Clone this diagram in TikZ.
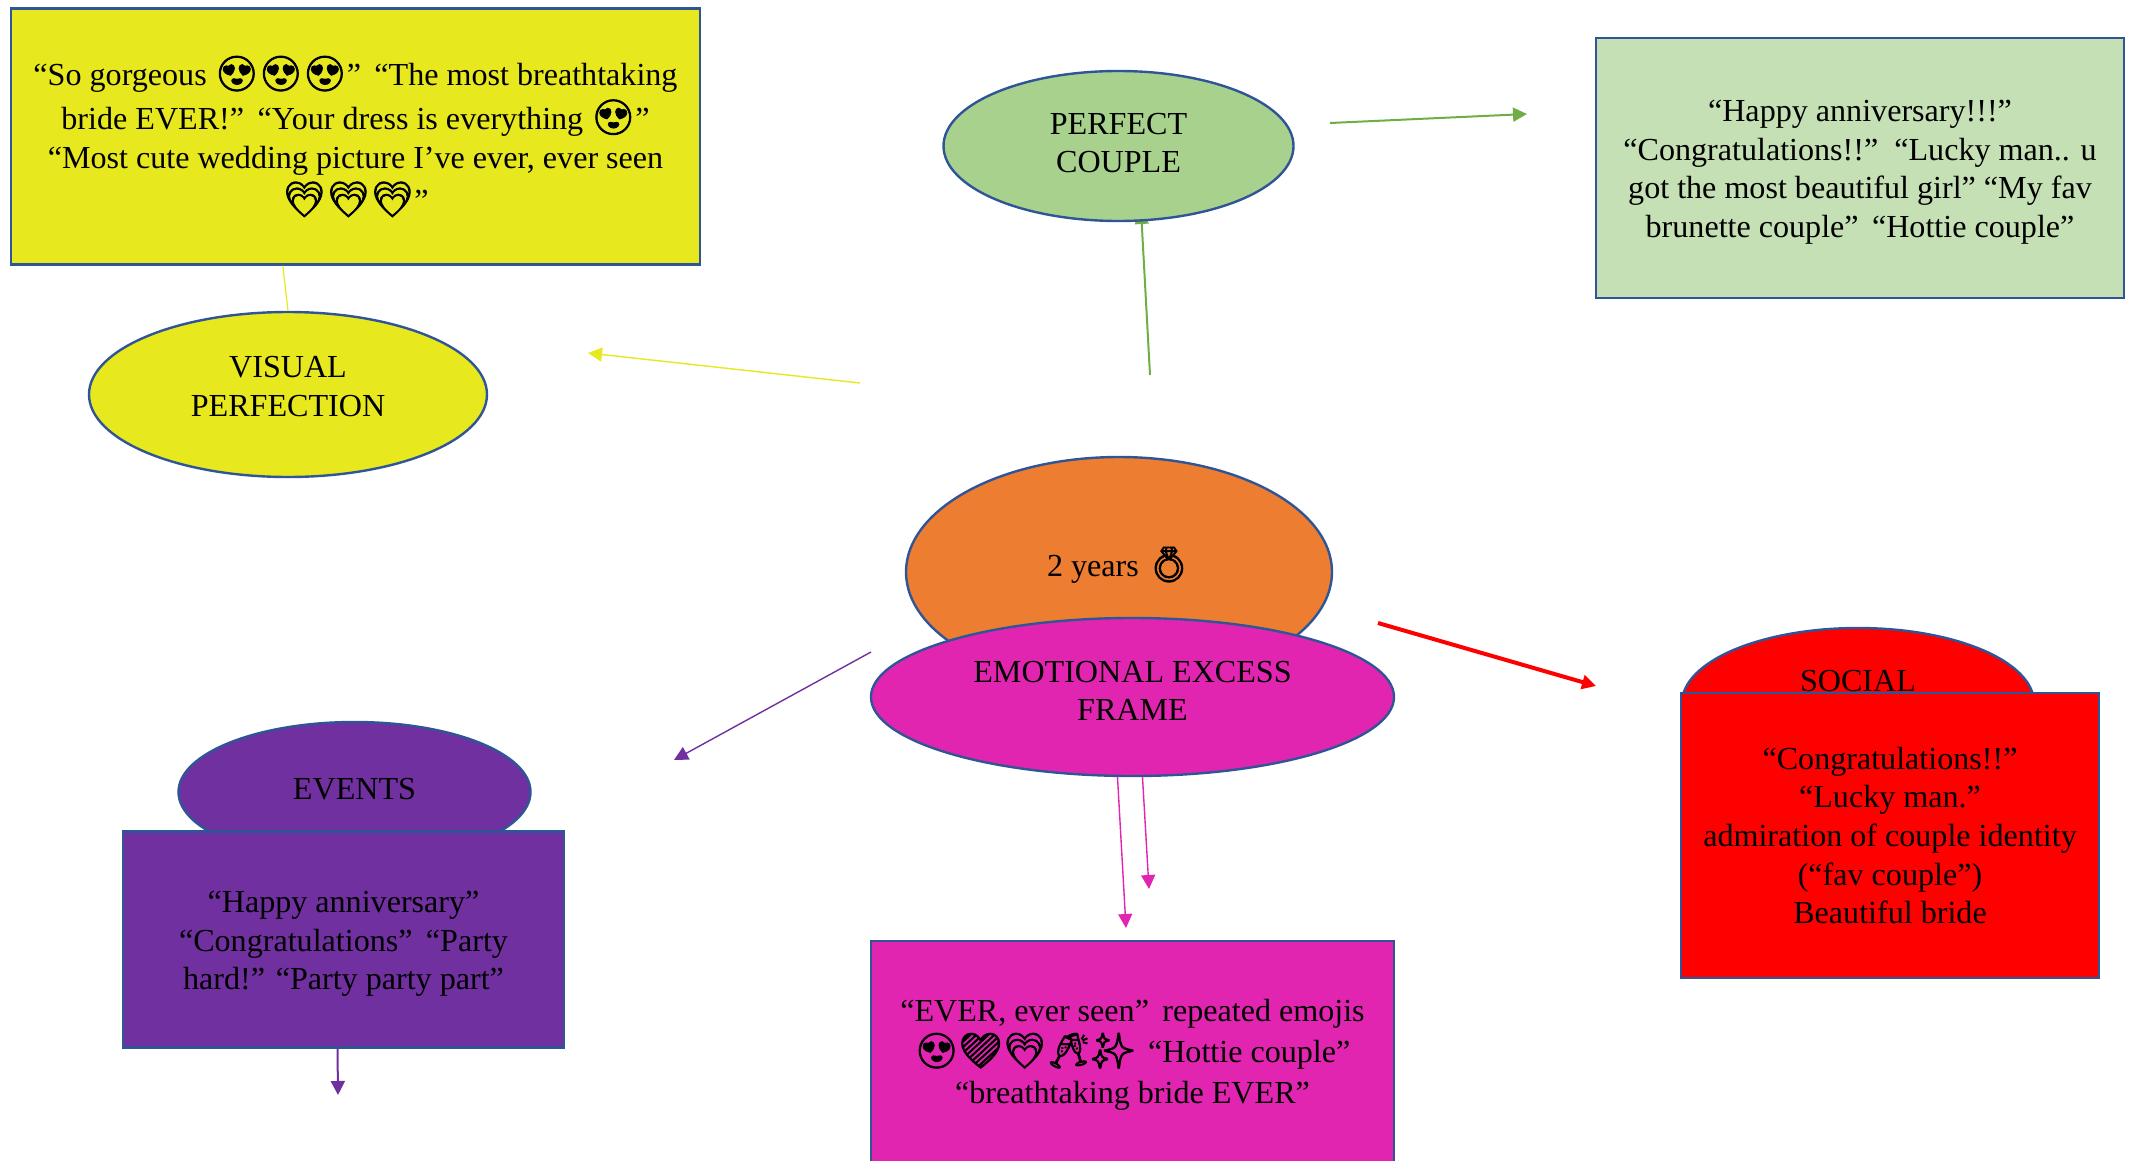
\documentclass[tikz,border=0pt]{standalone}
\usepackage{fontspec}
\setmainfont{Liberation Serif}
\newfontfamily\emojifont[Scale=1.08,FakeBold=2.5]{Noto Emoji}
\newcommand{\emo}[1]{{\emojifont #1}}
\usetikzlibrary{arrows.meta,shapes.geometric}
\definecolor{visualyellow}{HTML}{E8E81E}
\definecolor{coupleoval}{HTML}{A9D18E}
\definecolor{couplebox}{HTML}{C5E0B4}
\definecolor{couplearrow}{HTML}{70AD47}
\definecolor{centeroval}{HTML}{ED7D31}
\definecolor{framepink}{HTML}{E225B0}
\definecolor{eventpurple}{HTML}{7030A0}
\definecolor{edgeblue}{HTML}{2F5597}
\begin{document}
\begin{tikzpicture}[x=0.5pt,y=-0.5pt,
				every node/.style={draw=edgeblue,line width=1.2pt,align=center,text=black,font=\fontsize{16.05}{19.3}\selectfont,inner sep=0pt},
				arrowline/.style={-{Triangle[length=7pt,width=7pt]},line width=0.7pt}]
\clip (0,0) rectangle (2136,1161);
\coordinate (couplestart) at (1150,375);
\coordinate (coupletip) at (1141,210);
\draw[arrowline,couplearrow,line width=1pt] (couplestart) -- (coupletip);
\node[fill=visualyellow,minimum width=344.5pt,minimum height=128pt] (visualbox) at (355.5,136.5) {``So gorgeous \emo{😍😍😍}''\, ``The most breathtaking\\[2.5pt]bride EVER!''\, ``Your dress is everything \emo{😍}''\\[0.5pt]``Most cute wedding picture I've ever, ever seen\\[2pt]\emo{💗💗💗}''};
\node[ellipse,fill=visualyellow,minimum width=199pt,minimum height=82.5pt] (visual) at (288,394.5) {VISUAL\\PERFECTION\\[-11pt]\mbox{}};
\node[ellipse,fill=coupleoval,minimum width=175pt,minimum height=75pt] (couple) at (1118.5,146) {PERFECT\\COUPLE\\[-16pt]\mbox{}};
\node[fill=couplebox,minimum width=264pt,minimum height=130pt] (couplenote) at (1860,168) {\rule{0pt}{15pt}``Happy anniversary!!!''\\``Congratulations!!''\, ``Lucky man.. u\\got the most beautiful girl'' ``My fav\\brunette couple''\, ``Hottie couple''};
\node[ellipse,fill=centeroval,minimum width=213pt,minimum height=115pt] (center) at (1119,572) {2 years \emo{💍}\\[-9pt]\mbox{}};
\node[ellipse,fill=framepink,minimum width=261.5pt,minimum height=79pt] (frame) at (1132.5,697) {EMOTIONAL EXCESS\\FRAME\\[-13pt]\mbox{}};
\node[fill=framepink,minimum width=261.5pt,minimum height=112pt] (framenote) at (1132.5,1053) {\rule{0pt}{13pt}``EVER, ever seen''\, repeated emojis\\[1pt]\emo{😍💜💗🥂✨}\, ``Hottie couple''\\[1pt]``breathtaking bride EVER''};
\node[ellipse,fill=eventpurple,minimum width=176pt,minimum height=70pt] (events) at (354.5,792) {EVENTS\\[-16pt]\mbox{}};
\node[fill=eventpurple,minimum width=220.5pt,minimum height=108pt] (eventnote) at (343.5,939.5) {\rule{0pt}{15pt}``Happy anniversary''\\``Congratulations''\, ``Party\\hard!'' ``Party party part''};
\node[ellipse,fill=red,minimum width=176pt,minimum height=75pt] (social) at (1858,703) {SOCIAL\\[3pt]\mbox{}};
\node[fill=red,minimum width=209pt,minimum height=142.5pt] (socialnote) at (1890,835.5) {``Congratulations!!''\\``Lucky man.''\\admiration of couple identity\\(``fav couple'')\\Beautiful bride};
\coordinate (visualstart) at (860,383);
\coordinate (visualend) at (588,353);
\coordinate (notestart) at (1330,123);
\coordinate (noteend) at (1527,114);
\coordinate (socialstart) at (1378,623);
\coordinate (socialend) at (1596,686);
\coordinate (eventstart) at (871,652);
\coordinate (eventend) at (674,760);
\coordinate (frameendA) at (1126,928);
\coordinate (frameendB) at (1149,889);
\coordinate (eventdown) at (338,1095);
\draw[visualyellow,line width=0.6pt] (visualbox.south west) ++(273,0) -- (visual.north);
\draw[arrowline,visualyellow] (visualstart) -- (visualend);
\draw[arrowline,couplearrow,line width=1pt] (notestart) -- (noteend);
\draw[arrowline,red,line width=2pt] (socialstart) -- (socialend);
\draw[arrowline,eventpurple] (eventstart) -- (eventend);
\draw[arrowline,framepink] (frame.south) ++(-15,0) -- (frameendA);
\draw[arrowline,framepink] (frame.south) ++(10,0) -- (frameendB);
\draw[arrowline,eventpurple,line width=1pt] (eventnote.south) ++(-6,0) -- (eventdown);
\end{tikzpicture}
\end{document}
